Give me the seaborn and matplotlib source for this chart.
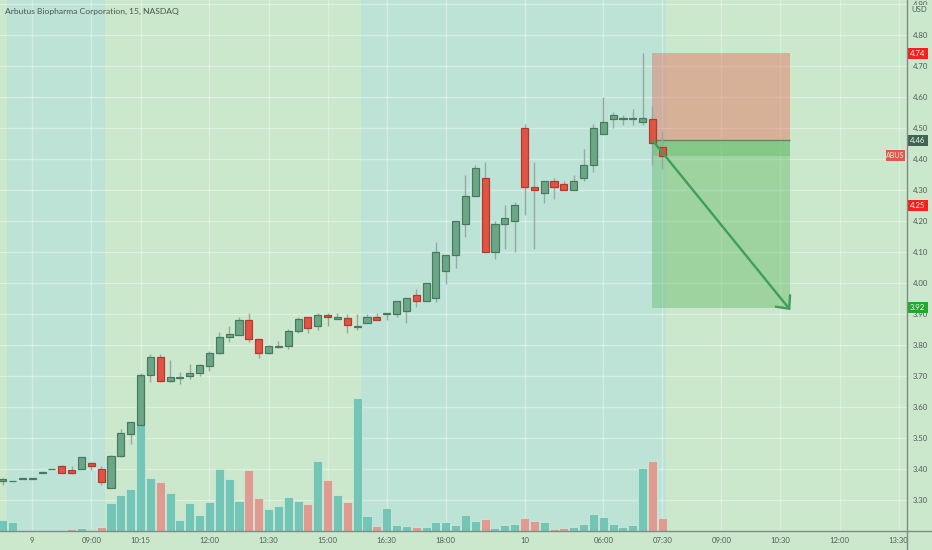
import numpy as np
import pandas as pd
import seaborn as sns
import matplotlib
matplotlib.use("Agg")
import matplotlib.pyplot as plt
from matplotlib.lines import Line2D
from matplotlib.patches import Rectangle
from matplotlib.transforms import blended_transform_factory

opens = [3.361,3.361,3.368,3.368,3.388,3.400,3.410,3.399,3.400,3.419,3.400,3.341,3.444,3.515,3.543,3.703,3.761,3.684,3.695,3.699,
         3.711,3.734,3.773,3.826,3.831,3.882,3.819,3.776,3.795,3.796,3.846,3.890,3.860,3.897,3.884,3.887,3.858,3.871,3.890,3.900,
         3.901,3.909,3.960,3.943,3.952,4.040,4.090,4.189,4.279,4.340,4.099,4.189,4.200,4.499,4.309,4.289,4.329,4.320,4.301,4.339,
         4.379,4.479,4.530,4.530,4.530,4.520,4.530,4.439]
closes = [3.369,3.362,3.371,3.371,3.391,3.401,3.389,3.388,3.439,3.411,3.360,3.442,3.516,3.552,3.704,3.761,3.684,3.696,3.697,3.711,
          3.735,3.774,3.825,3.835,3.882,3.819,3.773,3.797,3.797,3.846,3.884,3.855,3.897,3.890,3.890,3.865,3.861,3.890,3.881,3.903,
          3.941,3.952,3.941,4.000,4.100,4.090,4.200,4.279,4.371,4.100,4.189,4.209,4.250,4.310,4.301,4.329,4.309,4.301,4.329,4.379,
          4.499,4.520,4.540,4.531,4.531,4.531,4.450,4.410]
highs = [3.372,3.362,3.371,3.371,3.391,3.401,3.413,3.410,3.439,3.423,3.411,3.445,3.530,3.552,3.711,3.772,3.772,3.752,3.712,3.740,
         3.740,3.782,3.841,3.860,3.890,3.903,3.819,3.801,3.812,3.852,3.891,3.890,3.903,3.903,3.903,3.900,3.901,3.901,3.903,3.903,
         3.941,3.952,3.981,4.000,4.132,4.090,4.200,4.349,4.379,4.391,4.200,4.251,4.260,4.511,4.391,4.329,4.340,4.330,4.349,4.431,
         4.511,4.600,4.550,4.540,4.560,4.740,4.570,4.490]
lows = [3.350,3.361,3.368,3.368,3.388,3.400,3.387,3.386,3.400,3.398,3.349,3.339,3.439,3.480,3.540,3.680,3.681,3.680,3.675,3.690,
        3.699,3.718,3.770,3.809,3.831,3.809,3.760,3.770,3.790,3.789,3.839,3.839,3.849,3.860,3.884,3.839,3.850,3.871,3.881,3.881,
        3.889,3.870,3.922,3.941,3.940,3.997,4.049,4.149,4.279,4.100,4.078,4.110,4.099,4.220,4.110,4.259,4.270,4.301,4.301,4.329,
        4.359,4.479,4.500,4.510,4.510,4.510,4.379,4.369]
volumes = [11,9,1.3,1.3,1.3,1,1,1.7,3.3,1.3,4,28,36,42,106,53,49,38,11,28,
           16,29,62,52,30,61,33,22,25,34,30,27,70,51,36,29,133,15,5,23,
           6,5,4,4,9,9,6,16,10,12,3,6,7,13,10,9,2,3,4,7,
           17,14,7,4,6,63,70,13]
tick_index = [3,9,14,21,27,33,39,45,53,61,67,73,79,85,91]
tick_labels = ["9","09:00","10:15","12:00","13:30","15:00","16:30","18:00","10","06:00","07:30","09:00","10:30","12:00","13:30"]
price_ticks = [3.3,3.4,3.5,3.6,3.7,3.8,3.9,4.0,4.1,4.2,4.3,4.4,4.5,4.6,4.7,4.8,4.9]
session_spans = [(0.44,10.39),(36.39,67.37)]
stop_price, entry_price, last_price, target_price = 4.74, 4.46, 4.41, 3.92
exit_price = 3.913
trade_start, trade_end = 66, 80

W, H = 932, 550
BG = "#cbe7cc"; TEAL = "#bde3d7"; TXT = "#4f5c57"; AX = "#7f8c85"
sns.set_theme(style="white")
plt.rcParams["font.family"] = ["Lato", "DejaVu Sans"]

fig = plt.figure(figsize=(W/100, H/100), dpi=100, facecolor=BG)
rect = [0, (H-531)/H, 906.7/W, 531/H]
axv = fig.add_axes(rect, facecolor=BG)
ax = fig.add_axes(rect, facecolor="none")

x0, x1 = -0.274, 91.82
y0, y1 = 3.201, 4.912

df = pd.DataFrame({"i": np.arange(len(opens)), "open": opens, "close": closes,
                   "high": highs, "low": lows, "volume": volumes})
df["side"] = np.where(df.close >= df.open, "up", "down")

# backgrounds, grid
for a, b in session_spans:
    axv.axvspan(a, b, color=TEAL, lw=0, zorder=0)
for t in tick_index:
    axv.axvline(t, color="white", alpha=0.32, lw=1, zorder=1)
axv.set_ylim(0, 531)
for v in price_ticks:
    yy = (v - y0) / (y1 - y0)
    axv.axhline(yy * 531, color="white", alpha=0.38, lw=1, zorder=1)

# volume
sns.barplot(data=df, x="i", y="volume", hue="side", native_scale=True, dodge=False, width=0.92,
            palette={"up": "#73c6b6", "down": "#e09b90"}, saturation=1, edgecolor="#d5ece0", linewidth=0.5,
            legend=False, ax=axv, zorder=2)
axv.set_xlim(x0, x1); axv.set_ylim(0, 531)
axv.set_xticks([]); axv.set_yticks([]); axv.set_xlabel(""); axv.set_ylabel("")
for s in axv.spines.values():
    s.set_visible(False)

# long/short box
w = trade_end - trade_start
ax.add_patch(Rectangle((trade_start, entry_price), w, stop_price-entry_price, color="#e8604c", alpha=0.4, lw=0, zorder=1.5))
ax.add_patch(Rectangle((trade_start, target_price), w, entry_price-target_price, color="#4caf50", alpha=0.35, lw=0, zorder=1.5))
ax.add_patch(Rectangle((trade_start, last_price), w, entry_price-last_price, color="#4caf50", alpha=0.3, lw=0, zorder=1.5))
ax.hlines(entry_price, trade_start, trade_end, color="#5d8a6a", lw=1, zorder=1.6)

# candles
ax.vlines(df.i, df.low, df.high, color="#97a89f", lw=1.0, zorder=2)
for side, fc, ec in [("up", "#6ba787", "#467b5f"), ("down", "#df5443", "#b23a30")]:
    d = df[df.side == side]
    ax.bar(d.i, (d.close - d.open).abs(), bottom=d[["open", "close"]].min(axis=1), width=0.98,
           color="white", alpha=0.22, lw=0, zorder=2.2)
    ax.bar(d.i, (d.close - d.open).abs(), bottom=d[["open", "close"]].min(axis=1), width=0.72,
           color=fc, edgecolor=ec, lw=0.9, zorder=3)

ax.annotate("", xy=(trade_end, exit_price), xytext=(trade_start, entry_price),
            arrowprops=dict(arrowstyle="->,head_length=0.6,head_width=0.55", color="#3f9f5a", lw=1.7,
                            shrinkA=0, shrinkB=0), zorder=5)

ax.set_xlim(x0, x1); ax.set_ylim(y0, y1)
for s in ax.spines.values():
    s.set_visible(False)
ax.set_xticks(tick_index); ax.set_xticklabels(tick_labels)
ax.yaxis.tick_right()
ax.set_yticks(price_ticks); ax.set_yticklabels([f"{v:.2f}" for v in price_ticks])
ax.tick_params(axis="x", length=0, pad=4, labelsize=5.6, colors=TXT)
ax.tick_params(axis="y", length=0, pad=4.7, labelsize=5.6, colors=TXT)

# axis rules
fig.add_artist(Line2D([906.7/W]*2, [0, 1], color=AX, lw=1))
fig.add_artist(Line2D([0, 1], [(H-531)/H]*2, color=AX, lw=1))

# text
fig.text(4.7/W, 1-11/H, "Arbutus Biopharma Corporation, 15, NASDAQ", fontsize=6.1, color="#4a5652", va="center", ha="left")
ax.text(1+12.8/906.7, 1-9.5/531, "USD", transform=ax.transAxes, fontsize=5.6, color=TXT, va="center", ha="center", clip_on=False,
        bbox=dict(facecolor=BG, edgecolor="none", pad=1.0), zorder=6)

# price badges
tr = blended_transform_factory(ax.transAxes, ax.transData)
bh = 11 / 310.4
for price, col in [(stop_price, "#fa1e1e"), (entry_price, "#3f6650"), (4.25, "#fa1e1e"), (target_price, "#22a82f")]:
    ax.add_patch(Rectangle((1.0005, price-bh/2), 21/906.7, bh, transform=tr, color=col, lw=0, clip_on=False, zorder=6))
    ax.text(1+10.5/906.7, price, f"{price:.2f}", transform=tr, color="#f2f7f2", fontsize=5.6, ha="center", va="center", clip_on=False, zorder=7)
ax.add_patch(Rectangle((885.7/906.7, last_price-bh/2), 19.6/906.7, bh, transform=tr, color="#e0584a", lw=0, clip_on=False, zorder=6))
ax.text(895.5/906.7, last_price, "ABUS", transform=tr, color="#f5e8e4", fontsize=5.0, ha="center", va="center", zorder=7)

fig.savefig("out.png", dpi=100, facecolor=BG)
